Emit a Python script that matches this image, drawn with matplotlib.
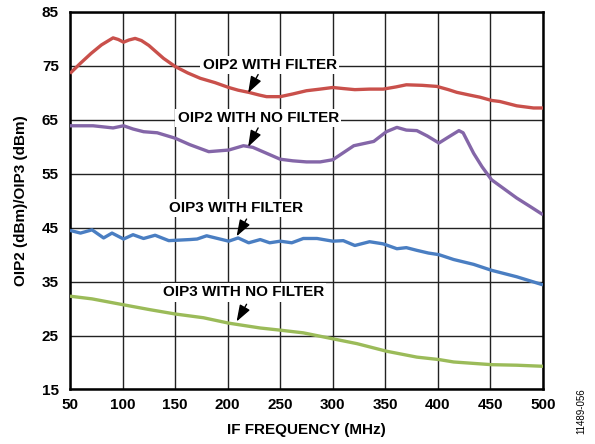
import matplotlib
matplotlib.use("Agg")
import matplotlib.pyplot as plt

# OIP2 with filter (red)
freq_oip2_filt = [50, 60, 70, 80, 91, 96, 101, 106, 112, 118, 125, 132, 139, 150, 162, 174, 188,
                  201, 210, 220, 230, 237, 250, 262, 275, 288, 300, 310, 321, 335, 348, 360, 370,
                  385, 399, 410, 418, 430, 440, 451, 459, 467, 475, 483, 491, 500]
oip2_filt = [73.6, 75.5, 77.3, 78.9, 80.2, 79.9, 79.4, 79.8, 80.1, 79.7, 78.8, 77.6, 76.4, 74.9,
             73.7, 72.7, 71.9, 71.0, 70.5, 70.1, 69.6, 69.3, 69.3, 69.8, 70.4, 70.7, 71.0, 70.8,
             70.6, 70.7, 70.7, 71.1, 71.5, 71.4, 71.2, 70.6, 70.1, 69.6, 69.2, 68.6, 68.4, 68.0,
             67.6, 67.4, 67.2, 67.2]

# OIP2 with no filter (purple)
freq_oip2_nofilt = [50, 72, 91, 101, 110, 120, 133, 150, 164, 182, 201, 215, 224, 237, 250, 262,
                    275, 288, 300, 310, 320, 339, 351, 361, 370, 380, 390, 401, 410, 420, 424,
                    434, 442, 451, 463, 475, 488, 500]
oip2_nofilt = [63.9, 63.9, 63.5, 63.9, 63.3, 62.8, 62.6, 61.6, 60.4, 59.1, 59.4, 60.2, 59.9, 58.8,
               57.7, 57.4, 57.2, 57.2, 57.6, 58.9, 60.2, 61.0, 62.8, 63.6, 63.1, 63.0, 62.0, 60.7,
               61.8, 63.0, 62.6, 58.8, 56.3, 53.9, 52.2, 50.5, 48.9, 47.4]

# OIP3 with filter (blue)
freq_oip3_filt = [50, 60, 71, 82, 90, 101, 110, 120, 131, 144, 164, 171, 180, 201, 210, 220, 231,
                  240, 250, 261, 272, 285, 300, 310, 321, 335, 348, 361, 370, 380, 391, 401, 415,
                  434, 451, 475, 500]
oip3_filt = [44.5, 44.0, 44.6, 43.1, 44.0, 42.9, 43.7, 43.0, 43.6, 42.6, 42.8, 42.9, 43.5, 42.5,
             43.1, 42.2, 42.8, 42.2, 42.5, 42.2, 43.0, 43.0, 42.5, 42.6, 41.7, 42.4, 42.0, 41.1,
             41.3, 40.8, 40.3, 40.0, 39.1, 38.2, 37.1, 35.9, 34.4]

# OIP3 with no filter (green)
freq_oip3_nofilt = [50, 71, 101, 126, 150, 177, 201, 231, 250, 272, 300, 323, 351, 380, 401,
                    415, 451, 475, 500]
oip3_nofilt = [32.3, 31.8, 30.7, 29.8, 29.0, 28.3, 27.3, 26.4, 26.0, 25.5, 24.4, 23.5, 22.1, 21.0,
               20.55, 20.1, 19.6, 19.5, 19.3]

# annotations: text, text position, arrow tail, arrow head
labels = ["OIP2 WITH FILTER", "OIP2 WITH NO FILTER", "OIP3 WITH FILTER", "OIP3 WITH NO FILTER"]
label_x = [240, 229, 208, 215]
label_y = [75.2, 65.3, 48.6, 33.0]
arrow_tail = [(229, 73.4), (229, 63.5), (218, 46.6), (218, 30.8)]
arrow_head = [(219.5, 70.0), (219.5, 60.0), (208.5, 43.4), (208.5, 27.6)]

xticks = list(range(50, 501, 50))
yticks = list(range(15, 86, 10))

plt.rcParams['font.family'] = ['Liberation Sans', 'DejaVu Sans']
plt.rcParams['font.weight'] = 'bold'

fig = plt.figure(figsize=(5.95, 4.44), dpi=100)
ax = fig.add_axes([0.1176, 0.1228, 0.7950, 0.8502])

lw = 2.4
style = dict(lw=lw, zorder=3, solid_joinstyle='round', solid_capstyle='butt')
ax.plot(freq_oip2_filt, oip2_filt, color='#C9504B', **style)
ax.plot(freq_oip2_nofilt, oip2_nofilt, color='#8466A8', **style)
ax.plot(freq_oip3_filt, oip3_filt, color='#4A7EC2', **style)
ax.plot(freq_oip3_nofilt, oip3_nofilt, color='#9BBB59', **style)

for txt, x, y, tail, head in zip(labels, label_x, label_y, arrow_tail, arrow_head):
    ax.text(x, y, txt, ha='center', va='center', fontsize=11, fontweight='bold',
            bbox=dict(facecolor='white', edgecolor='none', pad=1.5), zorder=4)
    ax.annotate('', xy=head, xytext=tail,
                arrowprops=dict(arrowstyle='-|>,head_length=1.0,head_width=0.35',
                                color='black', lw=1.0, shrinkA=0, shrinkB=0), zorder=5)

ax.set_xlim(50, 500)
ax.set_ylim(15, 85)
ax.set_xticks(xticks)
ax.set_yticks(yticks)
ax.grid(True, color='#222222', lw=1.0, zorder=1)
ax.set_axisbelow(True)
ax.tick_params(length=0, labelsize=11)
ax.tick_params(axis='y', pad=8)
ax.tick_params(axis='x', pad=6)
for sp in ax.spines.values():
    sp.set_linewidth(1.8)

ax.set_xlabel('IF FREQUENCY (MHz)', fontsize=11, fontweight='bold', labelpad=8)
ax.set_ylabel('OIP2 (dBm)/OIP3 (dBm)', fontsize=11, fontweight='bold', labelpad=10)

fig.text(0.977, 0.075, '11489-056', rotation=90, fontsize=7, fontweight='normal',
         ha='center', va='center')

fig.savefig('out.png', dpi=100)
